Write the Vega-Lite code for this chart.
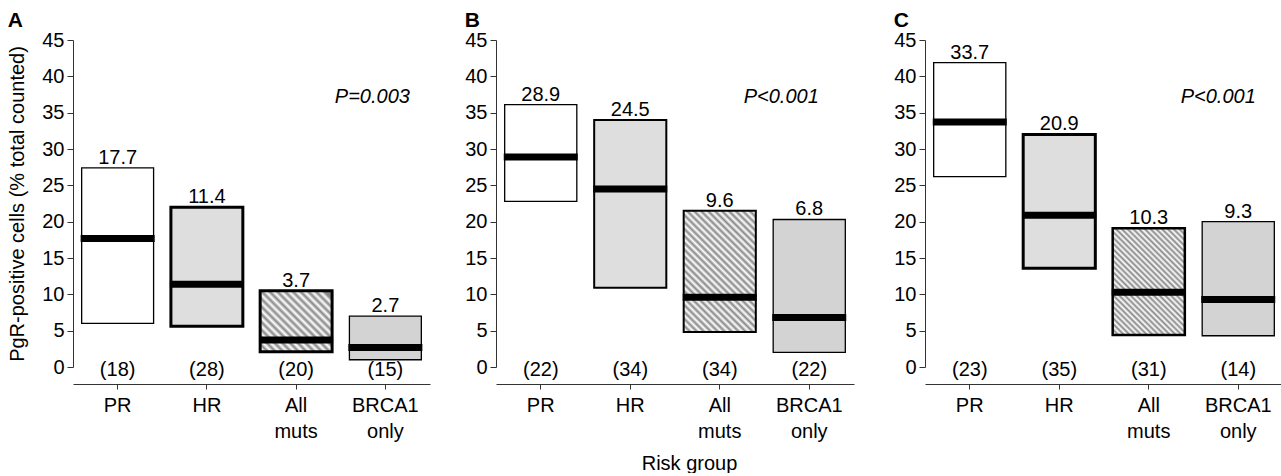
{
  "$schema": "https://vega.github.io/schema/vega-lite/v6.json",
  "padding": {"left": 7, "top": 10, "right": 0, "bottom": 0},
  "config": {
    "view": {"stroke": null},
    "font": "Liberation Sans",
    "title": {"anchor": "start", "frame": "bounds", "fontSize": 21, "fontWeight": "bold", "color": "black", "offset": -1},
    "axis": {"domainColor": "#333", "tickColor": "#333", "labelFontSize": 20, "labelColor": "black", "titleFontSize": 20, "titleFontWeight": "normal", "titleColor": "black", "grid": false, "tickSize": 6, "labelPadding": 3},
    "axisY": {"tickCount": 10, "values": [0, 5, 10, 15, 20, 25, 30, 35, 40, 45]}
  },
  "datasets": {
    "boxes": [
      {"panel": "A", "group": "PR", "low": 6.0, "high": 27.4, "median": 17.7, "n": "(18)"},
      {"panel": "A", "group": "HR", "low": 5.6, "high": 22.0, "median": 11.4, "n": "(28)"},
      {"panel": "A", "group": "All muts", "low": 2.1, "high": 10.5, "median": 3.7, "n": "(20)"},
      {"panel": "A", "group": "BRCA1 only", "low": 1.0, "high": 7.0, "median": 2.7, "n": "(15)"},
      {"panel": "B", "group": "PR", "low": 22.8, "high": 36.1, "median": 28.9, "n": "(22)"},
      {"panel": "B", "group": "HR", "low": 10.9, "high": 34.0, "median": 24.5, "n": "(34)"},
      {"panel": "B", "group": "All muts", "low": 4.8, "high": 21.5, "median": 9.6, "n": "(34)"},
      {"panel": "B", "group": "BRCA1 only", "low": 2.0, "high": 20.3, "median": 6.8, "n": "(22)"},
      {"panel": "C", "group": "PR", "low": 26.2, "high": 41.9, "median": 33.7, "n": "(23)"},
      {"panel": "C", "group": "HR", "low": 13.6, "high": 32.0, "median": 20.9, "n": "(35)"},
      {"panel": "C", "group": "All muts", "low": 4.4, "high": 19.1, "median": 10.3, "n": "(31)"},
      {"panel": "C", "group": "BRCA1 only", "low": 4.3, "high": 20.0, "median": 9.3, "n": "(14)"}
    ]
  },
  "spacing": 34,
  "hconcat": [
    {
      "width": 357, "height": 327,
      "title": {"text": "A"},
      "data": {"name": "boxes"},
      "transform": [{"filter": "datum.panel == 'A'"}],
      "encoding": {
        "x": {"field": "group", "type": "nominal", "sort": ["PR", "HR", "All muts", "BRCA1 only"],
              "scale": {"paddingInner": 0.194, "paddingOuter": 0.097},
              "axis": {"title": null, "labelAngle": 0, "offset": 17, "tickSize": 5, "labelPadding": 6, "labelLineHeight": 26, "labelExpr": "split(datum.label, ' ')"}}
      },
      "layer": [
        {
          "transform": [{"filter": "datum.group != 'All muts'"}],
          "mark": {"type": "bar", "stroke": "black"},
          "encoding": {
            "y": {"field": "low", "type": "quantitative", "scale": {"domain": [0, 45]},
                  "axis": {"values": [0, 5, 10, 15, 20, 25, 30, 35, 40, 45], "title": "PgR-positive cells (% total counted)", "titlePadding": 14}},
            "y2": {"field": "high"},
            "fill": {"field": "group", "type": "nominal", "scale": {"domain": ["PR", "HR", "BRCA1 only"], "range": ["#ffffff", "#dedede", "#d3d3d3"]}, "legend": null},
            "strokeWidth": {"condition": {"test": "datum.group == 'HR'", "value": 3}, "value": 1.3}
          }
        },
        {
          "transform": [{"filter": "datum.group == 'All muts'"}],
          "mark": {"type": "bar", "stroke": "black", "strokeWidth": 3,
                   "fill": {"gradient": "linear", "x1": 0, "y1": 1, "x2": 1, "y2": 0.15, "stops": [
                     {"offset": 0, "color": "#888"}, {"offset": 0.03125, "color": "#fff"}, {"offset": 0.0625, "color": "#888"}, {"offset": 0.09375, "color": "#fff"},
                     {"offset": 0.125, "color": "#888"}, {"offset": 0.15625, "color": "#fff"}, {"offset": 0.1875, "color": "#888"}, {"offset": 0.21875, "color": "#fff"},
                     {"offset": 0.25, "color": "#888"}, {"offset": 0.28125, "color": "#fff"}, {"offset": 0.3125, "color": "#888"}, {"offset": 0.34375, "color": "#fff"},
                     {"offset": 0.375, "color": "#888"}, {"offset": 0.40625, "color": "#fff"}, {"offset": 0.4375, "color": "#888"}, {"offset": 0.46875, "color": "#fff"},
                     {"offset": 0.5, "color": "#888"}, {"offset": 0.53125, "color": "#fff"}, {"offset": 0.5625, "color": "#888"}, {"offset": 0.59375, "color": "#fff"},
                     {"offset": 0.625, "color": "#888"}, {"offset": 0.65625, "color": "#fff"}, {"offset": 0.6875, "color": "#888"}, {"offset": 0.71875, "color": "#fff"},
                     {"offset": 0.75, "color": "#888"}, {"offset": 0.78125, "color": "#fff"}, {"offset": 0.8125, "color": "#888"}, {"offset": 0.84375, "color": "#fff"},
                     {"offset": 0.875, "color": "#888"}, {"offset": 0.90625, "color": "#fff"}, {"offset": 0.9375, "color": "#888"}, {"offset": 0.96875, "color": "#fff"},
                     {"offset": 1, "color": "#888"}]}},
          "encoding": {"y": {"field": "low", "type": "quantitative", "axis": {"values": [0, 5, 10, 15, 20, 25, 30, 35, 40, 45]}}, "y2": {"field": "high"}}
        },
        {"mark": {"type": "tick", "color": "black", "thickness": 7, "size": 74, "opacity": 1}, "encoding": {"y": {"field": "median", "type": "quantitative", "axis": {"values": [0, 5, 10, 15, 20, 25, 30, 35, 40, 45]}}}},
        {"mark": {"type": "text", "baseline": "alphabetic", "dy": -4, "fontSize": 20, "color": "black"}, "encoding": {"y": {"field": "high", "type": "quantitative", "axis": {"values": [0, 5, 10, 15, 20, 25, 30, 35, 40, 45]}}, "text": {"field": "median", "type": "quantitative", "format": ".1f"}}},
        {"mark": {"type": "text", "baseline": "middle", "dy": 3, "fontSize": 20, "color": "black"}, "encoding": {"y": {"datum": 0}, "text": {"field": "n"}}},
        {"data": {"values": [{"p": "P=0.003"}]}, "mark": {"type": "text", "fontStyle": "italic", "fontSize": 20, "dx": -13, "baseline": "middle", "color": "black"}, "encoding": {"x": {"datum": "BRCA1 only"}, "y": {"datum": 37.2}, "text": {"field": "p"}}}
      ]
    },
    {
      "spacing": 39,
      "hconcat": [
        {
          "width": 358, "height": 327,
          "title": {"text": "B"},
          "data": {"name": "boxes"},
          "transform": [{"filter": "datum.panel == 'B'"}],
          "encoding": {
            "x": {"field": "group", "type": "nominal", "sort": ["PR", "HR", "All muts", "BRCA1 only"],
                  "scale": {"paddingInner": 0.194, "paddingOuter": 0.097},
                  "axis": {"title": "Risk group", "titleX": 193, "titlePadding": 12, "labelAngle": 0, "offset": 17, "tickSize": 5, "labelPadding": 6, "labelLineHeight": 26, "labelExpr": "split(datum.label, ' ')"}}
          },
          "layer": [
            {
              "transform": [{"filter": "datum.group != 'All muts'"}],
              "mark": {"type": "bar", "stroke": "black"},
              "encoding": {
                "y": {"field": "low", "type": "quantitative", "scale": {"domain": [0, 45]},
                      "axis": {"values": [0, 5, 10, 15, 20, 25, 30, 35, 40, 45], "title": null}},
                "y2": {"field": "high"},
                "fill": {"field": "group", "type": "nominal", "scale": {"domain": ["PR", "HR", "BRCA1 only"], "range": ["#ffffff", "#dedede", "#d3d3d3"]}, "legend": null},
                "strokeWidth": {"condition": {"test": "datum.group == 'HR'", "value": 2}, "value": 1.3}
              }
            },
            {
              "transform": [{"filter": "datum.group == 'All muts'"}],
              "mark": {"type": "bar", "stroke": "black", "strokeWidth": 2,
                       "fill": {"gradient": "linear", "x1": 0, "y1": 1, "x2": 1, "y2": -0.69, "stops": [
                         {"offset": 0, "color": "#888"}, {"offset": 0.0125, "color": "#fff"}, {"offset": 0.025, "color": "#888"}, {"offset": 0.0375, "color": "#fff"},
                         {"offset": 0.05, "color": "#888"}, {"offset": 0.0625, "color": "#fff"}, {"offset": 0.075, "color": "#888"}, {"offset": 0.0875, "color": "#fff"},
                         {"offset": 0.1, "color": "#888"}, {"offset": 0.1125, "color": "#fff"}, {"offset": 0.125, "color": "#888"}, {"offset": 0.1375, "color": "#fff"},
                         {"offset": 0.15, "color": "#888"}, {"offset": 0.1625, "color": "#fff"}, {"offset": 0.175, "color": "#888"}, {"offset": 0.1875, "color": "#fff"},
                         {"offset": 0.2, "color": "#888"}, {"offset": 0.2125, "color": "#fff"}, {"offset": 0.225, "color": "#888"}, {"offset": 0.2375, "color": "#fff"},
                         {"offset": 0.25, "color": "#888"}, {"offset": 0.2625, "color": "#fff"}, {"offset": 0.275, "color": "#888"}, {"offset": 0.2875, "color": "#fff"},
                         {"offset": 0.3, "color": "#888"}, {"offset": 0.3125, "color": "#fff"}, {"offset": 0.325, "color": "#888"}, {"offset": 0.3375, "color": "#fff"},
                         {"offset": 0.35, "color": "#888"}, {"offset": 0.3625, "color": "#fff"}, {"offset": 0.375, "color": "#888"}, {"offset": 0.3875, "color": "#fff"},
                         {"offset": 0.4, "color": "#888"}, {"offset": 0.4125, "color": "#fff"}, {"offset": 0.425, "color": "#888"}, {"offset": 0.4375, "color": "#fff"},
                         {"offset": 0.45, "color": "#888"}, {"offset": 0.4625, "color": "#fff"}, {"offset": 0.475, "color": "#888"}, {"offset": 0.4875, "color": "#fff"},
                         {"offset": 0.5, "color": "#888"}, {"offset": 0.5125, "color": "#fff"}, {"offset": 0.525, "color": "#888"}, {"offset": 0.5375, "color": "#fff"},
                         {"offset": 0.55, "color": "#888"}, {"offset": 0.5625, "color": "#fff"}, {"offset": 0.575, "color": "#888"}, {"offset": 0.5875, "color": "#fff"},
                         {"offset": 0.6, "color": "#888"}, {"offset": 0.6125, "color": "#fff"}, {"offset": 0.625, "color": "#888"}, {"offset": 0.6375, "color": "#fff"},
                         {"offset": 0.65, "color": "#888"}, {"offset": 0.6625, "color": "#fff"}, {"offset": 0.675, "color": "#888"}, {"offset": 0.6875, "color": "#fff"},
                         {"offset": 0.7, "color": "#888"}, {"offset": 0.7125, "color": "#fff"}, {"offset": 0.725, "color": "#888"}, {"offset": 0.7375, "color": "#fff"},
                         {"offset": 0.75, "color": "#888"}, {"offset": 0.7625, "color": "#fff"}, {"offset": 0.775, "color": "#888"}, {"offset": 0.7875, "color": "#fff"},
                         {"offset": 0.8, "color": "#888"}]}},
              "encoding": {"y": {"field": "low", "type": "quantitative", "axis": {"values": [0, 5, 10, 15, 20, 25, 30, 35, 40, 45], "title": null}}, "y2": {"field": "high"}}
            },
            {"mark": {"type": "tick", "color": "black", "thickness": 7, "size": 74, "opacity": 1}, "encoding": {"y": {"field": "median", "type": "quantitative", "axis": {"values": [0, 5, 10, 15, 20, 25, 30, 35, 40, 45], "title": null}}}},
            {"mark": {"type": "text", "baseline": "alphabetic", "dy": -4, "fontSize": 20, "color": "black"}, "encoding": {"y": {"field": "high", "type": "quantitative", "axis": {"values": [0, 5, 10, 15, 20, 25, 30, 35, 40, 45], "title": null}}, "text": {"field": "median", "type": "quantitative", "format": ".1f"}}},
            {"mark": {"type": "text", "baseline": "middle", "dy": 3, "fontSize": 20, "color": "black"}, "encoding": {"y": {"datum": 0}, "text": {"field": "n"}}},
            {"data": {"values": [{"p": "P<0.001"}]}, "mark": {"type": "text", "fontStyle": "italic", "fontSize": 20, "dx": -28, "baseline": "middle", "color": "black"}, "encoding": {"x": {"datum": "BRCA1 only"}, "y": {"datum": 37.2}, "text": {"field": "p"}}}
          ]
        },
        {
          "width": 358, "height": 327,
          "title": {"text": "C"},
          "data": {"name": "boxes"},
          "transform": [{"filter": "datum.panel == 'C'"}],
          "encoding": {
            "x": {"field": "group", "type": "nominal", "sort": ["PR", "HR", "All muts", "BRCA1 only"],
                  "scale": {"paddingInner": 0.194, "paddingOuter": 0.097},
                  "axis": {"title": null, "labelAngle": 0, "offset": 17, "tickSize": 5, "labelPadding": 6, "labelLineHeight": 26, "labelExpr": "split(datum.label, ' ')"}}
          },
          "layer": [
            {
              "transform": [{"filter": "datum.group != 'All muts'"}],
              "mark": {"type": "bar", "stroke": "black"},
              "encoding": {
                "y": {"field": "low", "type": "quantitative", "scale": {"domain": [0, 45]},
                      "axis": {"values": [0, 5, 10, 15, 20, 25, 30, 35, 40, 45], "title": null}},
                "y2": {"field": "high"},
                "fill": {"field": "group", "type": "nominal", "scale": {"domain": ["PR", "HR", "BRCA1 only"], "range": ["#ffffff", "#dedede", "#d3d3d3"]}, "legend": null},
                "strokeWidth": {"condition": {"test": "datum.group == 'HR'", "value": 3}, "value": 1.3}
              }
            },
            {
              "transform": [{"filter": "datum.group == 'All muts'"}],
              "mark": {"type": "bar", "stroke": "black", "strokeWidth": 2.5,
                       "fill": {"gradient": "linear", "x1": 0, "y1": 1, "x2": 1, "y2": -0.48, "stops": [
                         {"offset": 0, "color": "#888"}, {"offset": 0.0125, "color": "#fff"}, {"offset": 0.025, "color": "#888"}, {"offset": 0.0375, "color": "#fff"},
                         {"offset": 0.05, "color": "#888"}, {"offset": 0.0625, "color": "#fff"}, {"offset": 0.075, "color": "#888"}, {"offset": 0.0875, "color": "#fff"},
                         {"offset": 0.1, "color": "#888"}, {"offset": 0.1125, "color": "#fff"}, {"offset": 0.125, "color": "#888"}, {"offset": 0.1375, "color": "#fff"},
                         {"offset": 0.15, "color": "#888"}, {"offset": 0.1625, "color": "#fff"}, {"offset": 0.175, "color": "#888"}, {"offset": 0.1875, "color": "#fff"},
                         {"offset": 0.2, "color": "#888"}, {"offset": 0.2125, "color": "#fff"}, {"offset": 0.225, "color": "#888"}, {"offset": 0.2375, "color": "#fff"},
                         {"offset": 0.25, "color": "#888"}, {"offset": 0.2625, "color": "#fff"}, {"offset": 0.275, "color": "#888"}, {"offset": 0.2875, "color": "#fff"},
                         {"offset": 0.3, "color": "#888"}, {"offset": 0.3125, "color": "#fff"}, {"offset": 0.325, "color": "#888"}, {"offset": 0.3375, "color": "#fff"},
                         {"offset": 0.35, "color": "#888"}, {"offset": 0.3625, "color": "#fff"}, {"offset": 0.375, "color": "#888"}, {"offset": 0.3875, "color": "#fff"},
                         {"offset": 0.4, "color": "#888"}, {"offset": 0.4125, "color": "#fff"}, {"offset": 0.425, "color": "#888"}, {"offset": 0.4375, "color": "#fff"},
                         {"offset": 0.45, "color": "#888"}, {"offset": 0.4625, "color": "#fff"}, {"offset": 0.475, "color": "#888"}, {"offset": 0.4875, "color": "#fff"},
                         {"offset": 0.5, "color": "#888"}, {"offset": 0.5125, "color": "#fff"}, {"offset": 0.525, "color": "#888"}, {"offset": 0.5375, "color": "#fff"},
                         {"offset": 0.55, "color": "#888"}, {"offset": 0.5625, "color": "#fff"}, {"offset": 0.575, "color": "#888"}, {"offset": 0.5875, "color": "#fff"},
                         {"offset": 0.6, "color": "#888"}, {"offset": 0.6125, "color": "#fff"}, {"offset": 0.625, "color": "#888"}, {"offset": 0.6375, "color": "#fff"},
                         {"offset": 0.65, "color": "#888"}, {"offset": 0.6625, "color": "#fff"}, {"offset": 0.675, "color": "#888"}, {"offset": 0.6875, "color": "#fff"},
                         {"offset": 0.7, "color": "#888"}, {"offset": 0.7125, "color": "#fff"}, {"offset": 0.725, "color": "#888"}, {"offset": 0.7375, "color": "#fff"},
                         {"offset": 0.75, "color": "#888"}, {"offset": 0.7625, "color": "#fff"}, {"offset": 0.775, "color": "#888"}, {"offset": 0.7875, "color": "#fff"},
                         {"offset": 0.8, "color": "#888"}, {"offset": 0.8125, "color": "#fff"}, {"offset": 0.825, "color": "#888"}, {"offset": 0.8375, "color": "#fff"},
                         {"offset": 0.85, "color": "#888"}]}},
              "encoding": {"y": {"field": "low", "type": "quantitative", "axis": {"values": [0, 5, 10, 15, 20, 25, 30, 35, 40, 45], "title": null}}, "y2": {"field": "high"}}
            },
            {"mark": {"type": "tick", "color": "black", "thickness": 7, "size": 74, "opacity": 1}, "encoding": {"y": {"field": "median", "type": "quantitative", "axis": {"values": [0, 5, 10, 15, 20, 25, 30, 35, 40, 45], "title": null}}}},
            {"mark": {"type": "text", "baseline": "alphabetic", "dy": -4, "fontSize": 20, "color": "black"}, "encoding": {"y": {"field": "high", "type": "quantitative", "axis": {"values": [0, 5, 10, 15, 20, 25, 30, 35, 40, 45], "title": null}}, "text": {"field": "median", "type": "quantitative", "format": ".1f"}}},
            {"mark": {"type": "text", "baseline": "middle", "dy": 3, "fontSize": 20, "color": "black"}, "encoding": {"y": {"datum": 0}, "text": {"field": "n"}}},
            {"data": {"values": [{"p": "P<0.001"}]}, "mark": {"type": "text", "fontStyle": "italic", "fontSize": 20, "dx": -20, "baseline": "middle", "color": "black"}, "encoding": {"x": {"datum": "BRCA1 only"}, "y": {"datum": 37.2}, "text": {"field": "p"}}}
          ]
        }
      ]
    }
  ]
}
